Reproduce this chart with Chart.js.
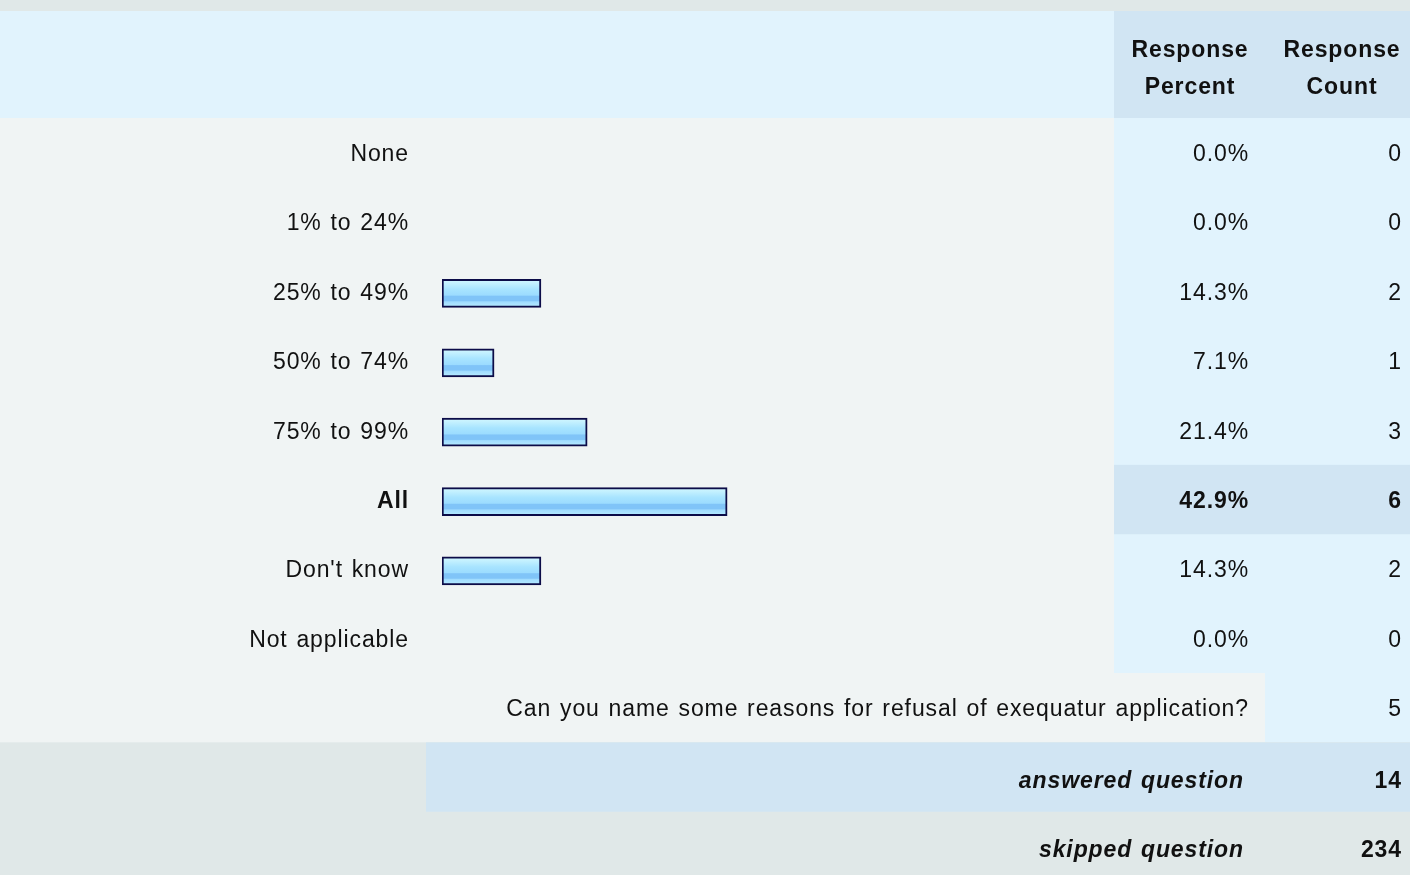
<!DOCTYPE html>
<html>
<head>
<meta charset="utf-8">
<script src="https://cdn.jsdelivr.net/npm/chart.js@4.4.1/dist/chart.umd.min.js"></script>
<style>
  html, body { margin: 0; padding: 0; background: #f0f4f4; }
  #wrap { width: 1410px; height: 875px; }
</style>
</head>
<body>
<div id="wrap"><canvas id="myChart" width="1410" height="875"></canvas></div>
<script>
// answer choices and their results
var categories = ['None', '1% to 24%', '25% to 49%', '50% to 74%', '75% to 99%', 'All', "Don't know", 'Not applicable'];
var percents = [0.0, 0.0, 14.3, 7.1, 21.4, 42.9, 14.3, 0.0];
var counts = [0, 0, 2, 1, 3, 6, 2, 0];

// column headers
var headerPercent = ['Response', 'Percent'];
var headerCount = ['Response', 'Count'];

// open ended row and summary rows
var openQuestion = 'Can you name some reasons for refusal of exequatur application?';
var openCount = 5;
var summaryLabels = ['answered question', 'skipped question'];
var summaryValues = [14, 234];

var FONT = '"Liberation Sans", Arial, sans-serif';
var TEXT = '#111111';
// the survey page gives every non-empty bar a small minimum length
var BAR_BASE = -0.9;

// the row with the most answers is drawn bold
var topIndex = percents.indexOf(Math.max.apply(Math, percents));

function barFill(c) {
    var chart = c.chart;
    var ys = chart.scales.y;
    if (!ys || c.dataIndex === undefined) {
        return '#a0dcff';
    }
    var yc = ys.getPixelForValue(c.dataIndex);
    if (!isFinite(yc)) {
        return '#a0dcff';
    }
    var g = chart.ctx.createLinearGradient(0, yc - 14, 0, yc + 14);
    g.addColorStop(0, '#d4f8ff');
    g.addColorStop(0.15, '#c2f0ff');
    g.addColorStop(0.35, '#a8e4ff');
    g.addColorStop(0.56, '#9cdcff');
    g.addColorStop(0.6, '#80c4f8');
    g.addColorStop(0.76, '#80c4f8');
    g.addColorStop(0.8, '#a0dcff');
    g.addColorStop(1, '#b8ecff');
    return g;
}

function fmtPct(v) {
    return v.toFixed(1) + '%';
}

/**
 * Draws the table around the bars: cell colours, headers, percent and count columns
 */
var tablePlugin = {
    id: 'surveyTable',
    beforeDraw: function (chart) {
        var ctx = chart.ctx;
        var area = chart.chartArea;
        var W = chart.width, H = chart.height;
        var band = (area.bottom - area.top) / categories.length;
        var top = area.top - 2;
        var bottom = area.bottom - 2;
        var colLeft = 1114, countLeft = 1265, sumLeft = 426;
        ctx.save();
        // top strip
        ctx.fillStyle = '#e0e8e8';
        ctx.fillRect(0, 0, W, 11);
        // header
        ctx.fillStyle = '#e1f3fd';
        ctx.fillRect(0, 11, colLeft, top - 11);
        ctx.fillStyle = '#d1e5f3';
        ctx.fillRect(colLeft, 11, W - colLeft, top - 11);
        // answer rows
        ctx.fillStyle = '#f0f4f4';
        ctx.fillRect(0, top, colLeft, bottom - top);
        ctx.fillStyle = '#e1f3fd';
        ctx.fillRect(colLeft, top, W - colLeft, bottom - top);
        ctx.fillStyle = '#d1e5f3';
        ctx.fillRect(colLeft, top + band * topIndex, W - colLeft, band);
        // open ended row
        var r = bottom;
        ctx.fillStyle = '#f0f4f4';
        ctx.fillRect(0, r, countLeft, band);
        ctx.fillStyle = '#e1f3fd';
        ctx.fillRect(countLeft, r, W - countLeft, band);
        // answered / skipped
        r += band;
        ctx.fillStyle = '#e0e8e8';
        ctx.fillRect(0, r, W, H - r);
        ctx.fillStyle = '#d1e5f3';
        ctx.fillRect(sumLeft, r, W - sumLeft, band);
        ctx.restore();
        // slightly wider text, like the original page
        ctx.letterSpacing = '0.9px';
        ctx.wordSpacing = '1.5px';
    },
    afterDraw: function (chart) {
        var ctx = chart.ctx;
        var area = chart.chartArea;
        var ys = chart.scales.y;
        var band = (area.bottom - area.top) / categories.length;
        var pctRight = 1249, cntRight = 1402, pctMid = 1190, cntMid = 1342;
        ctx.save();
        ctx.fillStyle = TEXT;
        ctx.textBaseline = 'middle';

        // header
        ctx.font = 'bold 23px ' + FONT;
        ctx.textAlign = 'center';
        ctx.fillText(headerPercent[0], pctMid, 51);
        ctx.fillText(headerPercent[1], pctMid, 88);
        ctx.fillText(headerCount[0], cntMid, 51);
        ctx.fillText(headerCount[1], cntMid, 88);

        // percent and count columns
        ctx.textAlign = 'right';
        for (var i = 0; i < categories.length; i++) {
            var y = ys.getPixelForValue(i);
            ctx.font = (i === topIndex ? 'bold ' : '') + '23px ' + FONT;
            ctx.fillText(fmtPct(percents[i]), pctRight, y);
            ctx.fillText(String(counts[i]), cntRight, y);
        }

        // open ended row
        var yOpen = area.bottom + band / 2;
        ctx.font = '23px ' + FONT;
        ctx.fillText(openQuestion, pctRight, yOpen);
        ctx.fillText(String(openCount), cntRight, yOpen);

        // summary rows
        for (var k = 0; k < summaryLabels.length; k++) {
            var ySum = area.bottom + band * (k + 1.5) + 2.5;
            ctx.font = 'italic bold 23px ' + FONT;
            ctx.fillText(summaryLabels[k], 1244, ySum);
            ctx.font = 'bold 23px ' + FONT;
            ctx.fillText(String(summaryValues[k]), cntRight, ySum);
        }
        ctx.restore();
    }
};

var ctx = document.getElementById('myChart').getContext('2d');
var myChart = new Chart(ctx, {
    type: 'bar',
    data: {
        labels: categories,
        datasets: [{
            // empty answers get no bar at all
            data: percents.map(v => v > 0 ? v : null),
            base: BAR_BASE,
            backgroundColor: barFill,
            borderColor: '#0c0c48',
            borderWidth: 2,
            borderSkipped: false,
            barThickness: 28
        }]
    },
    options: {
        indexAxis: 'y',
        responsive: false,
        animation: false,
        devicePixelRatio: 1,
        layout: {padding: {top: 120, bottom: 200, left: 0, right: 304}},
        plugins: {
            legend: {display: false},
            tooltip: {enabled: false}
        },
        scales: {
            x: {
                display: false,
                min: BAR_BASE,
                max: 101.1
            },
            y: {
                grid: {display: false, drawTicks: false},
                border: {display: false},
                afterFit: function (scale) {
                    scale.width = 442;
                },
                ticks: {
                    padding: 33,
                    color: TEXT,
                    font: function (c) {
                        return {
                            family: FONT,
                            size: 23,
                            weight: c.index === topIndex ? 'bold' : 'normal'
                        };
                    }
                }
            }
        }
    },
    plugins: [tablePlugin]
});
</script>
</body>
</html>
